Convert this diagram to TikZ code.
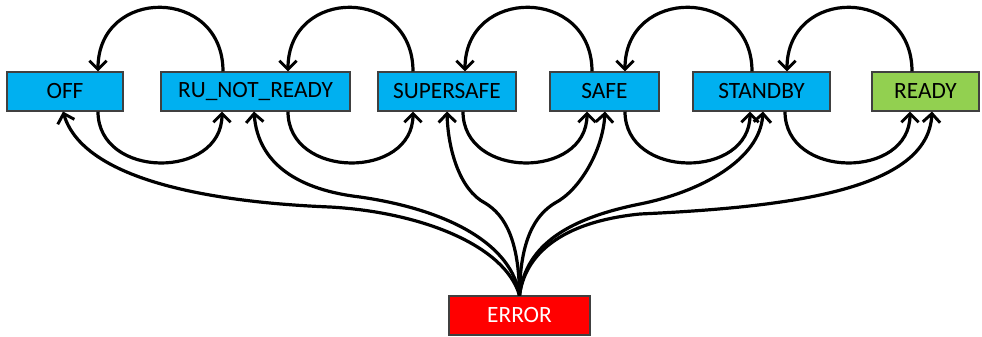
\documentclass[tikz,border=0pt]{standalone}
\usepackage{fontspec}
\setmainfont{Carlito}
\usetikzlibrary{arrows.meta}
\definecolor{stateblue}{HTML}{00B0F0}
\definecolor{stategreen}{HTML}{92D050}
\definecolor{statered}{HTML}{FF0000}
\tikzset{
  state/.style={draw=black!75, line width=0.8pt, fill=stateblue,
    minimum height=39*0.75pt, inner sep=0pt, font=\fontsize{17.5}{20}\selectfont},
  trans/.style={draw=black, line width=2.4pt,
    -{Straight Barb[length=6.5pt,width=13pt,line width=2.2pt]}},
}
\begin{document}
\begin{tikzpicture}[x=0.75pt, y=-0.75pt]
\useasboundingbox (0,0) rectangle (982,336);

% states
\node[state, minimum width=116*0.75pt] (off) at (65,91.5) {OFF};
\node[state, minimum width=189*0.75pt] (ru) at (255.5,91.5) {RU\_NOT\_READY};
\node[state, minimum width=138*0.75pt] (ss) at (447,91.5) {SUPERSAFE};
\node[state, minimum width=109*0.75pt] (safe) at (604.5,91.5) {SAFE};
\node[state, minimum width=137*0.75pt] (stby) at (761.5,91.5) {STANDBY};
\node[state, minimum width=107*0.75pt, fill=stategreen] (ready) at (925.5,91.5) {READY};
\node[state, minimum width=141*0.75pt, fill=statered, text=white] (err) at (519.5,315.5) {ERROR};

% backward transitions (arcs over the top)
\draw[trans] (ru.north -| 223,0) .. controls +(0,-85) and +(0,-85) .. (off.north -| 98,0);
\draw[trans] (ss.north -| 413,0) .. controls +(0,-85) and +(0,-85) .. (ru.north -| 288,0);
\draw[trans] (safe.north -| 592,0) .. controls +(0,-85) and +(0,-85) .. (ss.north -| 465,0);
\draw[trans] (stby.north -| 752,0) .. controls +(0,-85) and +(0,-85) .. (safe.north -| 625,0);
\draw[trans] (ready.north -| 912,0) .. controls +(0,-85) and +(0,-85) .. (stby.north -| 787,0);

% forward transitions (arcs underneath)
\draw[trans] (off.south -| 98,0) .. controls +(0,68) and +(0,68) .. (ru.south -| 222,0);
\draw[trans] (ru.south -| 288,0) .. controls +(0,68) and +(0,68) .. (ss.south -| 413,0);
\draw[trans] (ss.south -| 463,0) .. controls +(0,68) and +(0,68) .. (safe.south -| 587,0);
\draw[trans] (safe.south -| 625,0) .. controls +(0,68) and +(0,68) .. (stby.south -| 750,0);
\draw[trans] (stby.south -| 785,0) .. controls +(0,68) and +(0,68) .. (ready.south -| 910,0);

% recovery from ERROR to every state
\draw[trans] (err.north) .. controls (505,245) and (420,212) .. (330,207)
  .. controls (230,203) and (85,185) .. (off.south -| 63,0);
\draw[trans] (err.north) .. controls (512,245) and (450,210) .. (360,197)
  .. controls (300,190) and (258,165) .. (ru.south -| 254,0);
\draw[trans] (err.north) .. controls (519,240) and (505,215) .. (485,203)
  .. controls (460,190) and (448,150) .. (ss.south -| 447,0);
\draw[trans] (err.north) .. controls (520,240) and (535,215) .. (555,203)
  .. controls (580,190) and (603,150) .. (safe.south -| 605,0);
\draw[trans] (err.north) .. controls (525,250) and (560,220) .. (640,204)
  .. controls (700,192) and (760,160) .. (stby.south -| 763,0);
\draw[trans] (err.north) .. controls (525,255) and (560,222) .. (640,214)
  .. controls (790,207) and (928,190) .. (ready.south -| 932,0);
\end{tikzpicture}
\end{document}
